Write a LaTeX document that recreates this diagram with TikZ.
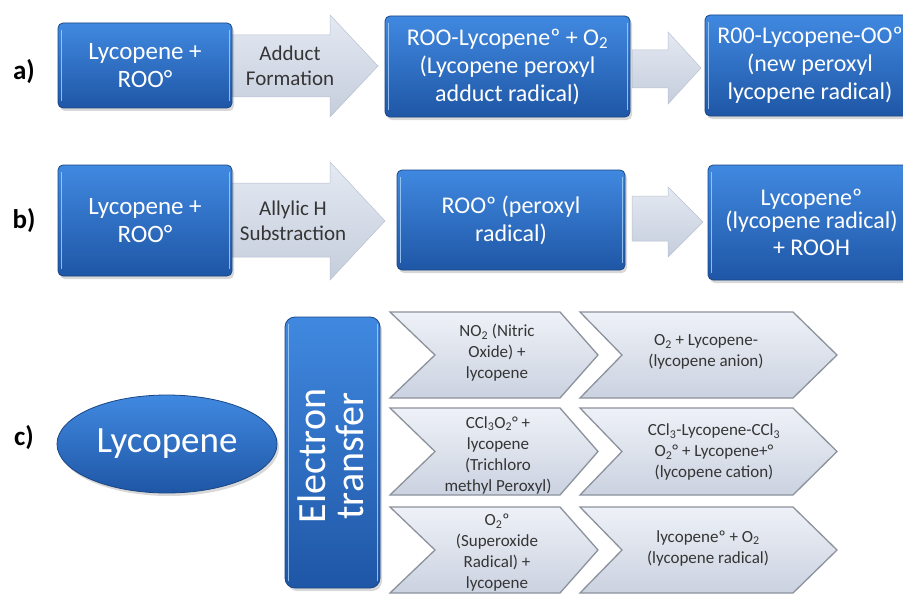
\documentclass[tikz,border=0pt]{standalone}
\usepackage{fontspec}
\setmainfont{Carlito}
\usetikzlibrary{shadows,shapes.geometric}
\definecolor{bluetop}{HTML}{4089E0}
\definecolor{bluebot}{HTML}{1F56A6}
\definecolor{boxedge}{HTML}{1A4684}
\definecolor{hlcol}{HTML}{A3CDF6}
\definecolor{gtop}{HTML}{E4E9F2}
\definecolor{gbot}{HTML}{C5CDDC}
\definecolor{gedge}{HTML}{B9C1D1}
\definecolor{ctop}{HTML}{EEF1F7}
\definecolor{cbot}{HTML}{CBD2E0}
\definecolor{cedge}{HTML}{8C929C}
\definecolor{ctxt}{HTML}{353535}
\tikzset{
  bluebox/.style={draw=boxedge, line width=0.8pt, rounded corners=5pt,
    top color=bluetop, bottom color=bluebot, text=white, align=center,
    font=\fontsize{24}{28}\selectfont, inner sep=0pt,
    drop shadow={opacity=0.3, shadow xshift=2pt, shadow yshift=-3pt}},
  garrow/.style={top color=gtop, bottom color=gbot, draw=gedge, line width=0.5pt, line join=miter},
  chevshape/.style={top color=ctop, bottom color=cbot, draw=cedge, line width=1.3pt, line join=miter},
  ctext/.style={text=ctxt, align=center, font=\fontsize{17}{21}\selectfont, inner sep=0pt},
  atext/.style={text=ctxt, align=center, font=\fontsize{21}{25}\selectfont, inner sep=0pt},
  lab/.style={font=\bfseries\fontsize{27}{30}\selectfont, inner sep=0pt},
  hl/.style={draw=hlcol, line width=1.6pt, opacity=0.85}
}
\newcommand\boxhl[1]{%
  \draw[hl] ([xshift=4pt,yshift=-7pt]#1.north west) -- ([xshift=4pt,yshift=7pt]#1.south west);
  \draw[hl] ([xshift=-3pt,yshift=-7pt]#1.north east) -- ([xshift=-3pt,yshift=7pt]#1.south east);}
\begin{document}
\begin{tikzpicture}[x=1pt,y=-1pt]
\useasboundingbox (0,0) rectangle (903,594);
\fill[white] (0,0) rectangle (903,594);

% labels
\node[lab] (la) at (24,72) {a)};
\node[lab] (lb) at (24,221) {b)};
\node[lab] (lc) at (24,438) {c)};

% ---------- row a ----------
\path[garrow] (232,35) -- (330,35) -- (330,15) -- (378,66) -- (330,117) -- (330,97) -- (232,97) -- cycle;
\node[atext] (ta1) at (290,66) {Adduct\\Formation};
\path[garrow] (632,50) -- (668,50) -- (668,32) -- (701,68) -- (668,104) -- (668,88) -- (632,88) -- cycle;

\node[bluebox, minimum width=174pt, minimum height=85pt, font=\fontsize{25}{28}\selectfont] (a1) at (145,65.5) {Lycopene +\\ROO°};
\boxhl{a1}
\node[bluebox, minimum width=245pt, minimum height=101pt] (a2) at (507.5,66.5) {ROO-Lycopeneº + O\textsubscript{2}\\(Lycopene peroxyl\\adduct radical)};
\boxhl{a2}
\node[bluebox, minimum width=210pt, minimum height=101pt] (a3) at (810,65.5) {R00-Lycopene-OOº\\(new peroxyl\\lycopene radical)};
\boxhl{a3}

% ---------- row b ----------
\path[garrow] (232,183) -- (330,183) -- (330,162) -- (385,221) -- (330,280) -- (330,257) -- (232,257) -- cycle;
\node[atext] (tb1) at (293,221) {Allylic H\\Substraction};
\path[garrow] (632,196) -- (668,196) -- (668,187) -- (703,222) -- (668,257) -- (668,241) -- (632,241) -- cycle;

\node[bluebox, minimum width=174pt, minimum height=111pt, font=\fontsize{25}{28}\selectfont] (b1) at (145,220.5) {Lycopene +\\ROO°};
\boxhl{b1}
\node[bluebox, minimum width=228pt, minimum height=100pt] (b2) at (511,220) {ROOº (peroxyl\\radical)};
\boxhl{b2}
\node[bluebox, minimum width=207pt, minimum height=115pt, font=\fontsize{24}{23}\selectfont] (b3) at (811.5,222.5) {Lycopeneº\\(lycopene radical)\\[4pt]+ ROOH};
\boxhl{b3}

% ---------- row c ----------
\node[bluebox, ellipse, minimum width=220pt, minimum height=98pt, font=\fontsize{37}{40}\selectfont] (lyc) at (167,444) {Lycopene};
\node[bluebox, rounded corners=10pt, minimum width=95pt, minimum height=271pt] (et) at (332.5,452.5) {};
\boxhl{et}
\node[rotate=90, text=white, align=center, font=\fontsize{40}{38}\selectfont, inner sep=0pt] (ett) at (331,456) {Electron\\transfer};

% chevrons column 1
\path[chevshape] (390,312) -- (560,312) -- (598,355) -- (560,398) -- (390,398) -- (435,355) -- cycle;
\path[chevshape] (390,408) -- (560,408) -- (598,451.5) -- (560,495) -- (390,495) -- (435,451.5) -- cycle;
\path[chevshape] (390,507) -- (560,507) -- (598,550) -- (560,593) -- (390,593) -- (435,550) -- cycle;
% chevrons column 2
\path[chevshape] (580,312) -- (793,312) -- (837,355) -- (793,398) -- (580,398) -- (622,355) -- cycle;
\path[chevshape] (580,408) -- (793,408) -- (837,451.5) -- (793,495) -- (580,495) -- (622,451.5) -- cycle;
\path[chevshape] (580,507) -- (793,507) -- (837,550) -- (793,593) -- (580,593) -- (622,550) -- cycle;

\node[ctext] (c11) at (497,353) {NO\textsubscript{2} (Nitric\\Oxide) +\\lycopene};
\node[ctext] (c12) at (706,352) {O\textsubscript{2} + Lycopene-\\(lycopene anion)};
\node[ctext] (c21) at (498,455) {CCl\textsubscript{3}O\textsubscript{2}° +\\lycopene\\(Trichloro\\methyl Peroxyl)};
\node[ctext] (c22) at (714,452) {CCl\textsubscript{3}-Lycopene-CCl\textsubscript{3}\\O\textsubscript{2}° + Lycopene+°\\(lycopene cation)};
\node[ctext] (c31) at (497,553) {O\textsubscript{2}º\\(Superoxide\\Radical) +\\lycopene};
\node[ctext] (c32) at (708,548) {lycopeneº + O\textsubscript{2}\\(lycopene radical)};
\end{tikzpicture}
\end{document}
